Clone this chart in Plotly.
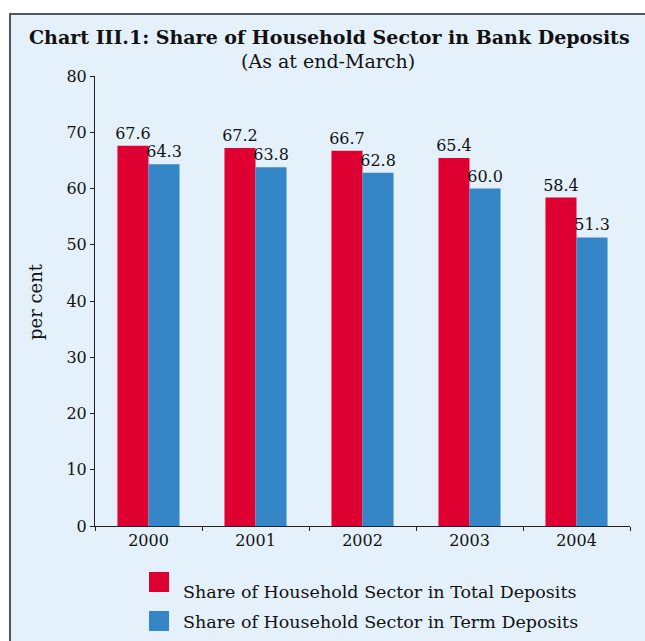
import plotly.graph_objects as go

years = ["2000", "2001", "2002", "2003", "2004"]
total_deposits = [67.6, 67.2, 66.7, 65.4, 58.4]
term_deposits = [64.3, 63.8, 62.8, 60.0, 51.3]
series_names = [
    "Share of Household Sector in Total Deposits",
    "Share of Household Sector in Term Deposits",
]
y_ticks = [0, 10, 20, 30, 40, 50, 60, 70, 80]

RED = "#DE0031"
BLUE = "#3586C6"
FONT = "DejaVu Serif"

W, H = 645, 641
L, R, T, B = 95, 15, 76, 115
pw, ph = W - L - R, H - T - B


def px(x):
    return (x - L) / pw


def py(y):
    return (H - B - y) / ph


fig = go.Figure()
for name, vals, col in [(series_names[0], total_deposits, RED),
                        (series_names[1], term_deposits, BLUE)]:
    fig.add_trace(go.Bar(
        x=years, y=vals, name=name, marker=dict(color=col, line=dict(width=0)),
        text=[f"{v:.1f}" for v in vals], textposition="outside",
        constraintext="none",
        textfont=dict(family=FONT, size=16, color="#111"), cliponaxis=False,
        showlegend=False,
    ))

shapes = [
    # panel background with frame
    dict(type="rect", xref="paper", yref="paper", x0=px(10), x1=px(700),
         y0=py(700), y1=py(14), fillcolor="#E4F1FB",
         line=dict(color="#555555", width=2), layer="below"),
]
annotations = [
    dict(text="<b>Chart III.1: Share of Household Sector in Bank Deposits</b>",
         xref="paper", yref="paper", x=px(329), y=py(37), showarrow=False,
         font=dict(family=FONT, size=19, color="#111"), xanchor="center", yanchor="middle"),
    dict(text="(As at end-March)", xref="paper", yref="paper", x=px(328), y=py(61),
         showarrow=False, font=dict(family=FONT, size=19, color="#111"),
         xanchor="center", yanchor="middle"),
    dict(text="per cent", xref="paper", yref="paper", x=px(35), y=py(302),
         showarrow=False, textangle=-90, font=dict(family=FONT, size=18, color="#111"),
         xanchor="center", yanchor="middle"),
]

# legend drawn as swatches with labels
for i, (name, col) in enumerate(zip(series_names, [RED, BLUE])):
    top = 572 + i * 39
    shapes.append(dict(type="rect", xref="paper", yref="paper", x0=px(149), x1=px(169),
                       y0=py(top + 20), y1=py(top), fillcolor=col, line=dict(width=0)))
    annotations.append(dict(text=name, xref="paper", yref="paper", x=px(181),
                            y=py(top + 20 if i == 0 else top + 11), showarrow=False,
                            xanchor="left", yanchor="middle",
                            font=dict(family=FONT, size=17.5, color="#111")))

fig.update_layout(
    width=W, height=H, margin=dict(l=L, r=R, t=T, b=B),
    paper_bgcolor="white", plot_bgcolor="rgba(0,0,0,0)",
    barmode="group", bargap=0.42, bargroupgap=0,
    shapes=shapes, annotations=annotations,
    font=dict(family=FONT, size=16, color="#111"),
    xaxis=dict(showline=True, linecolor="#222", linewidth=1, ticks="outside",
               tickson="boundaries", ticklen=4, tickcolor="#222", showgrid=False,
               tickfont=dict(family=FONT, size=16, color="#111")),
    yaxis=dict(range=[0, 80], tickvals=y_ticks, showline=True, linecolor="#222",
               linewidth=1, ticks="outside", ticklen=4, tickcolor="#222",
               showgrid=False, zeroline=False,
               tickfont=dict(family=FONT, size=16, color="#111")),
)

fig.write_html("out.html")
